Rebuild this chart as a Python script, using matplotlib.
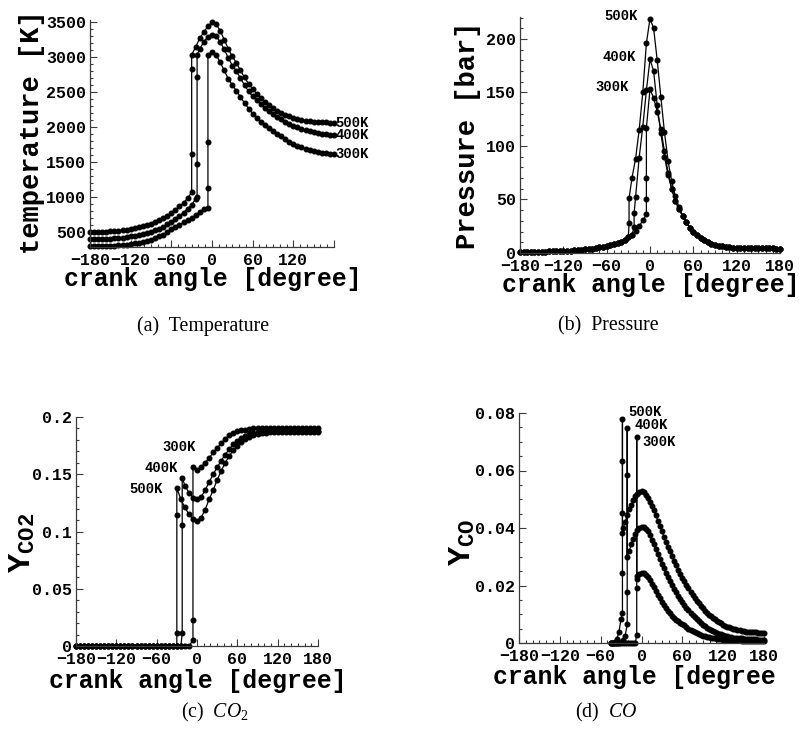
import numpy as np
import matplotlib
matplotlib.use('Agg')
import matplotlib.pyplot as plt
from matplotlib.ticker import MultipleLocator

# ---- data -------------------------------------------------------------------
cases = ['500K', '400K', '300K']

# (a) temperature [K], crank angle grid every 6 deg
ang_T = np.arange(-180, 181, 6)
T500 = [500, 501, 503, 505, 508, 512, 516, 522, 528, 536, 545, 556, 570, 585, 602, 622, 645, 672,
        702, 738, 778, 822, 870, 920, 985, 1070,
        3150, 3270, 3360, 3440, 3495, 3470, 3380, 3250, 3120, 3010, 2920, 2810, 2710, 2620, 2545,
        2480, 2420, 2365, 2315, 2272, 2235, 2203, 2176, 2153, 2134, 2118, 2105, 2095, 2087, 2080,
        2075, 2071, 2068, 2066, 2065]
T500_jump = (-30, [1618, 2828, 3030])
T400 = [400, 401, 402, 404, 407, 410, 414, 419, 425, 432, 440, 450, 461, 474, 490, 508, 528, 552,
        578, 612, 648, 690, 735, 782, 835, 895, 975,
        3120, 3220, 3290, 3320, 3300, 3220, 3110, 2990, 2880, 2800, 2700, 2600, 2510, 2440, 2385,
        2330, 2280, 2235, 2190, 2150, 2110, 2075, 2045, 2020, 1998, 1977, 1960, 1945, 1932, 1920,
        1910, 1902, 1895, 1890]
T400_jump = (-22, [1000, 1470, 2720, 3030])
T300 = [300, 301, 302, 303, 305, 307, 310, 314, 318, 324, 331, 340, 350, 362, 377, 395, 415, 440,
        468, 502, 540, 575, 605, 640, 675, 705, 745, 790, 830, 850,
        3070, 3030, 2930, 2810, 2690, 2600, 2520, 2430, 2345, 2265, 2195, 2130, 2075, 2030, 1985,
        1945, 1905, 1870, 1830, 1795, 1765, 1738, 1715, 1695, 1678, 1663, 1650, 1638, 1629, 1621,
        1615]
T300_jump = (-6, [1130, 1790, 3030])

# (b) pressure [bar], grid every 5 deg
ang_P = np.arange(-180, 181, 5)
p_motored = [1.0, 1.0, 1.05, 1.1, 1.15, 1.2, 1.3, 1.35, 1.45, 1.55, 1.65, 1.8, 1.95, 2.1, 2.3, 2.5,
             2.75, 3.0, 3.3, 3.7, 4.1, 4.6, 5.2, 5.9, 6.5, 7.3, 8.2, 9.3, 10.6, 12.3, 14.5, 17.0,
             20.5, 25.0, 30.5, 36.0, 41.0]          # -180 .. 0 (motored part)
p_tail = [35, 29, 23.5, 19.5, 16.5, 14, 12, 10, 8.7, 7.6, 6.8, 6.2, 5.8, 5.4, 5.1, 4.9, 4.7, 4.6,
          4.5, 4.45, 4.4, 4.35, 4.3, 4.3, 4.25, 4.25, 4.2, 4.2]   # 45 .. 180
P500_burn = [70, 88, 115, 150, 196, 219, 210, 180, 146, 113, 86, 67, 53, 43]      # -25 .. 40
P500_jump = (-29, [28, 51])
P400_burn = [52, 89, 118, 152, 181, 170, 138, 112, 90, 73, 60, 49, 41]           # -20 .. 40
P400_jump = (-22, [24, 37])
P300_burn = [153, 145, 132, 116, 95, 75, 60, 49, 41]                             # 0 .. 40
P300_jump = (-5, [50, 70, 117])

# (c) CO2 mass fraction, grid every 6 deg
ang_C = np.arange(-180, 181, 6)
CO2_500 = [0] * 26 + [0.128, 0.121, 0.115, 0.111, 0.109, 0.112, 0.119, 0.128, 0.136, 0.145,
                      0.153, 0.160, 0.166, 0.171, 0.175, 0.178, 0.1805, 0.1825, 0.184, 0.185,
                      0.1857, 0.1862, 0.1865, 0.1867, 0.1868, 0.1869, 0.187, 0.187, 0.187, 0.187,
                      0.187, 0.187, 0.187, 0.187, 0.187]
CO2_500_jump = (-30, [0.011, 0.114, 0.138])
CO2_400 = [0] * 27 + [0.140, 0.134, 0.1295, 0.128, 0.130, 0.136, 0.143, 0.150, 0.156, 0.162,
                      0.167, 0.172, 0.176, 0.179, 0.1815, 0.1835, 0.185, 0.186, 0.1867, 0.1872,
                      0.1875, 0.1877, 0.1878, 0.1879, 0.188, 0.188, 0.188, 0.188, 0.188, 0.188,
                      0.188, 0.188, 0.188, 0.188]
CO2_400_jump = (-22, [0.011, 0.106, 0.147])
CO2_300 = [0] * 29 + [0.005,
                      0.1535, 0.156, 0.160, 0.164, 0.169, 0.173, 0.177, 0.181, 0.184, 0.186,
                      0.1875, 0.1885, 0.189, 0.1895] + [0.19] * 17
CO2_300_jump = (-6, [0.023, 0.156])

# (d) CO mass fraction, grid every 3 deg starting at -45
ang_O = np.arange(-45, 181, 3)
CO_500 = [0, 0, 0.0003, 0.0015, 0.004, 0.0085,
          0.040, 0.042, 0.0445, 0.0465, 0.048, 0.0497, 0.051, 0.0518, 0.0524, 0.0527,
          0.0525, 0.0515, 0.0505, 0.0492, 0.0478, 0.0462, 0.0444, 0.0426, 0.0407, 0.0389,
          0.037, 0.0352, 0.0335, 0.0319, 0.0302, 0.0286, 0.027, 0.0255, 0.0241, 0.0227,
          0.0214, 0.0202, 0.019, 0.0178, 0.0167, 0.0157, 0.0147, 0.0138, 0.0129, 0.0121,
          0.0113, 0.0106, 0.0099, 0.0093, 0.0087, 0.0082, 0.0077, 0.0072, 0.0068, 0.0064,
          0.006, 0.0057, 0.0054, 0.0051, 0.0049, 0.0047, 0.0045, 0.0044, 0.0042, 0.0041,
          0.004, 0.0039, 0.0038, 0.0038, 0.0037, 0.0037, 0.0036, 0.0036, 0.0036, 0.0035]
CO_500_jump = (-28, [0.0103, 0.0242, 0.0632, 0.078, 0.0451, 0.0382])
CO_400 = [0, 0, 0, 0, 0, 0.0003, 0.001, 0.0025, 0.0065,
          0.032, 0.0343, 0.0363, 0.038, 0.0393, 0.0401, 0.0405, 0.0404, 0.0398, 0.0388,
          0.0375, 0.036, 0.0344, 0.0327, 0.031, 0.0293, 0.0276, 0.026, 0.0245, 0.023,
          0.0216, 0.0202, 0.0189, 0.0177, 0.0165, 0.0154, 0.0143, 0.0133, 0.0123, 0.0114,
          0.0105, 0.0097, 0.0089, 0.0082, 0.0075, 0.0069, 0.0063, 0.0058, 0.0053, 0.0049,
          0.0045, 0.0041, 0.0038, 0.0035, 0.0032, 0.003, 0.0027, 0.0025, 0.0023, 0.0022,
          0.002, 0.0019, 0.0018, 0.0017, 0.0016, 0.0016, 0.0015, 0.0015, 0.0014, 0.0014,
          0.0013, 0.0013, 0.0013, 0.0012, 0.0012, 0.0012, 0.0012]
CO_400_jump = (-21, [0.0178, 0.0585, 0.0748, 0.030])
CO_300 = [0] * 13 + [
          0.0232, 0.024, 0.0244, 0.0245, 0.0238, 0.0229, 0.0218, 0.0206, 0.0194, 0.0181,
          0.0168, 0.0156, 0.0144, 0.0133, 0.0123, 0.0113, 0.0104, 0.0095, 0.0087, 0.0081,
          0.0076, 0.0071, 0.0067, 0.0061, 0.0055, 0.005, 0.0045, 0.0041, 0.0037, 0.0034,
          0.0031, 0.0028, 0.0026, 0.0023, 0.0021, 0.002, 0.0018, 0.0017, 0.0016, 0.0015,
          0.0014, 0.0013, 0.0012, 0.0012, 0.0011, 0.0011, 0.001, 0.001, 0.0009, 0.0009,
          0.0009, 0.0008, 0.0008, 0.0008, 0.0008, 0.0007, 0.0007, 0.0007, 0.0007, 0.0007,
          0.0007, 0.0007, 0.0007]
CO_300_jump = (-7, [0.0029, 0.019, 0.0715, 0.0224])


def merge(grid, vals, jump):
    """Insert the samples taken during the ignition jump (all at one angle)."""
    jx, jy = jump
    x = np.concatenate([grid, np.full(len(jy), jx)])
    y = np.concatenate([np.asarray(vals, float), jy])
    order = np.argsort(x, kind='stable')
    return x[order], y[order]


# ---- style -------------------------------------------------------------------
plt.rcParams['font.family'] = ['Liberation Mono', 'DejaVu Sans Mono']
plt.rcParams['font.weight'] = 'bold'
plt.rcParams['axes.labelweight'] = 'bold'
plt.rcParams['mathtext.fontset'] = 'custom'
plt.rcParams['mathtext.rm'] = 'Liberation Serif:weight=normal'
plt.rcParams['mathtext.it'] = 'Liberation Serif:style=italic:weight=normal'
plt.rcParams['mathtext.bf'] = 'Liberation Mono:weight=bold'

W, H = 804, 740
fig = plt.figure(figsize=(W / 100, H / 100), dpi=100)


def rect(l, t, r, b):
    return [l / W, 1 - b / H, (r - l) / W, (b - t) / H]


AX_COL = '#3a3a3a'
LINE_KW = dict(color='black', lw=0.9, marker='o', ms=3.3, clip_on=False)
XLAB = 17.8
YLAB = 19.5


def style(ax, xt_labels, yticks, ylabels, ymin_step):
    for s in ['top', 'right']:
        ax.spines[s].set_visible(False)
    for s in ['left', 'bottom']:
        ax.spines[s].set_color(AX_COL)
        ax.spines[s].set_linewidth(0.9)
    ax.set_xlim(-180, 180)
    ax.set_xticks([-180, -120, -60, 0, 60, 120, 180], xt_labels)
    ax.set_yticks(yticks, ylabels)
    ax.xaxis.set_minor_locator(MultipleLocator(10))
    ax.yaxis.set_minor_locator(MultipleLocator(ymin_step))
    ax.tick_params(which='both', direction='in', color=AX_COL, width=0.8, labelsize=12)
    ax.tick_params(axis='x', pad=4.5)
    ax.tick_params(axis='y', pad=3)
    ax.tick_params(which='major', length=5)
    ax.tick_params(which='minor', length=2.5)


xt_full = ['\u2212180', '\u2212120', '\u221260', '0', '60', '120', '180']

# (a) Temperature
ax = fig.add_axes(rect(90, 20, 334, 247))
for vals, jump in [(T500, T500_jump), (T400, T400_jump), (T300, T300_jump)]:
    x, y = merge(ang_T, vals, jump)
    ax.plot(x, y, **LINE_KW)
for name, vals in zip(cases, [T500, T400, T300]):
    ax.text(182, vals[-1], name, fontsize=10, ha='left', va='center')
ax.set_ylim(290, 3530)
style(ax, xt_full[:-1] + [''], [500, 1000, 1500, 2000, 2500, 3000, 3500],
      ['500', '1000', '1500', '2000', '2500', '3000', '3500'], 100)
ax.set_xlabel('crank angle [degree]', fontsize=XLAB)
ax.xaxis.set_label_coords(0.505, -0.09)
ax.set_ylabel('temperature [K]', fontsize=YLAB)
ax.yaxis.set_label_coords(-0.185, 0.505)

# (b) Pressure
ax = fig.add_axes(rect(520, 17, 780, 253))
series_p = [
    (p_motored[:31] + P500_burn + p_tail, P500_jump),
    (p_motored[:32] + P400_burn + p_tail, P400_jump),
    (p_motored[:36] + P300_burn + p_tail, P300_jump),
]
for vals, jump in series_p:
    x, y = merge(ang_P, vals, jump)
    ax.plot(x, y, **LINE_KW)
for name, lx, ly in zip(cases, [-17, -19, -29], [max(P500_burn), max(P400_burn), max(P300_burn)]):
    ax.text(lx, ly + 2, name, fontsize=10, ha='right', va='center')
ax.set_ylim(0, 220.5)
style(ax, xt_full, [0, 50, 100, 150, 200], ['0', '50', '100', '150', '200'], 10)
ax.set_xlabel('crank angle [degree]', fontsize=XLAB)
ax.xaxis.set_label_coords(0.504, -0.085)
ax.set_ylabel('Pressure [bar]', fontsize=YLAB)
ax.yaxis.set_label_coords(-0.15, 0.50)

# (c) CO2
ax = fig.add_axes(rect(76, 417, 318, 646))
for vals, jump in [(CO2_500, CO2_500_jump), (CO2_400, CO2_400_jump), (CO2_300, CO2_300_jump)]:
    x, y = merge(ang_C, vals, jump)
    ax.plot(x, y, **LINE_KW)
for name, lx, ly in zip(cases, [-51, -28, -1], [0.1375, 0.1555, 0.1736]):
    ax.text(lx, ly, name, fontsize=10, ha='right', va='center')
ax.set_ylim(0, 0.2)
style(ax, xt_full, [0, 0.05, 0.1, 0.15, 0.2], ['0', '0.05', '0.1', '0.15', '0.2'], 0.01)
ax.set_xlabel('crank angle [degree]', fontsize=XLAB)
ax.xaxis.set_label_coords(0.503, -0.10)
ax.set_ylabel(r'$\mathbf{Y}_{\mathbf{CO2}}$', fontsize=23)
ax.yaxis.set_label_coords(-0.16, 0.45)

# (d) CO
ax = fig.add_axes(rect(519, 413, 764, 643))
for vals, jump in [(CO_500, CO_500_jump), (CO_400, CO_400_jump), (CO_300, CO_300_jump)]:
    x, y = merge(ang_O, vals, jump)
    ax.plot(x, y, **LINE_KW)
for name, lx, ly in zip(cases, [-19.5, -10, 1.5], [0.0804, 0.0757, 0.0698]):
    ax.text(lx, ly, name, fontsize=10, ha='left', va='center', clip_on=False)
ax.set_ylim(0, 0.08)
style(ax, xt_full, [0, 0.02, 0.04, 0.06, 0.08], ['0', '0.02', '0.04', '0.06', '0.08'], 0.005)
ax.set_xlabel('crank angle [degree', fontsize=XLAB, ha='left')
ax.xaxis.set_label_coords(-0.106, -0.095)
ax.set_ylabel(r'$\mathbf{Y}_{\mathbf{CO}}$', fontsize=23)
ax.yaxis.set_label_coords(-0.17, 0.44)

# captions
cap = dict(fontsize=14.3, fontweight='normal', family='Liberation Serif', ha='center', va='center')
fig.text(203 / W, 1 - 326 / H, '(a)  Temperature', **cap)
fig.text(608 / W, 1 - 326 / H, '(b)  Pressure', **cap)
fig.text(215 / W, 1 - 712 / H, r'(c)  $CO_2$', **cap)
fig.text(606 / W, 1 - 712 / H, r'(d)  $CO$', **cap)

fig.savefig('out.png', dpi=100)
